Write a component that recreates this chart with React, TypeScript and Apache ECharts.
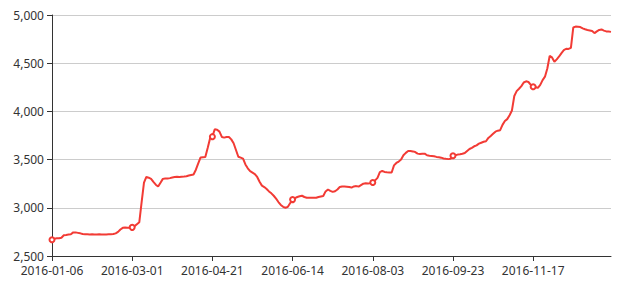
import React, { useEffect, useRef } from "react";
import * as echarts from "echarts";

const dates: string[] = [
  "2016-01-06", "2016-01-07", "2016-01-08", "2016-01-11", "2016-01-12", "2016-01-13", "2016-01-14", "2016-01-15",
  "2016-01-18", "2016-01-19", "2016-01-20", "2016-01-21", "2016-01-22", "2016-01-25", "2016-01-26", "2016-01-27",
  "2016-01-28", "2016-01-29", "2016-02-01", "2016-02-02", "2016-02-03", "2016-02-04", "2016-02-05", "2016-02-15",
  "2016-02-16", "2016-02-17", "2016-02-18", "2016-02-19", "2016-02-22", "2016-02-23", "2016-02-24", "2016-02-25",
  "2016-02-26", "2016-02-29",
  "2016-03-01", "2016-03-02", "2016-03-03", "2016-03-04", "2016-03-07", "2016-03-08", "2016-03-09", "2016-03-10",
  "2016-03-11", "2016-03-14", "2016-03-15", "2016-03-16", "2016-03-17", "2016-03-18", "2016-03-21", "2016-03-22",
  "2016-03-23", "2016-03-24", "2016-03-29", "2016-03-30", "2016-03-31", "2016-04-01", "2016-04-05", "2016-04-06",
  "2016-04-07", "2016-04-08", "2016-04-11", "2016-04-12", "2016-04-13", "2016-04-14", "2016-04-15", "2016-04-18",
  "2016-04-19", "2016-04-20",
  "2016-04-21", "2016-04-22", "2016-04-25", "2016-04-26", "2016-04-27", "2016-04-28", "2016-04-29", "2016-05-03",
  "2016-05-04", "2016-05-05", "2016-05-06", "2016-05-09", "2016-05-10", "2016-05-11", "2016-05-12", "2016-05-13",
  "2016-05-16", "2016-05-17", "2016-05-18", "2016-05-19", "2016-05-20", "2016-05-23", "2016-05-24", "2016-05-25",
  "2016-05-26", "2016-05-27", "2016-05-31", "2016-06-01", "2016-06-02", "2016-06-03", "2016-06-06", "2016-06-07",
  "2016-06-08", "2016-06-13",
  "2016-06-14", "2016-06-15", "2016-06-16", "2016-06-17", "2016-06-20", "2016-06-21", "2016-06-22", "2016-06-23",
  "2016-06-24", "2016-06-27", "2016-06-28", "2016-06-29", "2016-06-30", "2016-07-05", "2016-07-06", "2016-07-07",
  "2016-07-08", "2016-07-11", "2016-07-12", "2016-07-13", "2016-07-14", "2016-07-15", "2016-07-18", "2016-07-19",
  "2016-07-20", "2016-07-21", "2016-07-22", "2016-07-25", "2016-07-26", "2016-07-27", "2016-07-28", "2016-07-29",
  "2016-08-01", "2016-08-02",
  "2016-08-03", "2016-08-04", "2016-08-05", "2016-08-08", "2016-08-09", "2016-08-10", "2016-08-11", "2016-08-12",
  "2016-08-15", "2016-08-16", "2016-08-17", "2016-08-18", "2016-08-19", "2016-08-22", "2016-08-23", "2016-08-24",
  "2016-08-25", "2016-08-26", "2016-08-29", "2016-08-30", "2016-08-31", "2016-09-01", "2016-09-02", "2016-09-06",
  "2016-09-07", "2016-09-08", "2016-09-09", "2016-09-12", "2016-09-13", "2016-09-14", "2016-09-19", "2016-09-20",
  "2016-09-21", "2016-09-22",
  "2016-09-23", "2016-09-26", "2016-09-27", "2016-09-28", "2016-09-29", "2016-09-30", "2016-10-10", "2016-10-11",
  "2016-10-12", "2016-10-13", "2016-10-14", "2016-10-17", "2016-10-18", "2016-10-19", "2016-10-20", "2016-10-21",
  "2016-10-24", "2016-10-25", "2016-10-26", "2016-10-27", "2016-10-28", "2016-10-31", "2016-11-01", "2016-11-02",
  "2016-11-03", "2016-11-04", "2016-11-07", "2016-11-08", "2016-11-09", "2016-11-10", "2016-11-11", "2016-11-14",
  "2016-11-15", "2016-11-16",
  "2016-11-17", "2016-11-18", "2016-11-21", "2016-11-22", "2016-11-23", "2016-11-24", "2016-11-25", "2016-11-28",
  "2016-11-29", "2016-11-30", "2016-12-01", "2016-12-02", "2016-12-05", "2016-12-06", "2016-12-07", "2016-12-08",
  "2016-12-09", "2016-12-12", "2016-12-13", "2016-12-14", "2016-12-15", "2016-12-16", "2016-12-19", "2016-12-20",
  "2016-12-21", "2016-12-22", "2016-12-23", "2016-12-26", "2016-12-27", "2016-12-28", "2016-12-29", "2016-12-30",
  "2017-01-03", "2017-01-04",
];

const values: number[] = [
  // 2016-01-06 .. 2016-02-29
  2668, 2680, 2683, 2685, 2690, 2715, 2718, 2722, 2725, 2745, 2745, 2740, 2735, 2728,
  2726, 2725, 2724, 2725, 2724, 2724, 2725, 2724, 2724, 2724, 2725, 2726, 2728,
  2735, 2750, 2775, 2792, 2795, 2793, 2792,
  // 2016-03-01 .. 2016-04-20
  2797, 2810, 2830, 2850, 3060, 3260, 3320, 3312, 3300, 3268, 3240, 3220, 3260, 3300,
  3305, 3303, 3308, 3315, 3320, 3322, 3320, 3323, 3325, 3328, 3335, 3340, 3345, 3395,
  3460, 3522, 3525, 3528, 3620, 3720,
  // 2016-04-21 .. 2016-06-13
  3738, 3815, 3810, 3790, 3735, 3728, 3735, 3735, 3710, 3670, 3600, 3530, 3520, 3510,
  3450, 3410, 3380, 3365, 3350, 3320, 3270, 3230, 3215, 3195, 3170, 3150, 3125, 3095,
  3060, 3030, 3010, 3000, 3010, 3050,
  // 2016-06-14 .. 2016-08-02
  3085, 3100, 3112, 3120, 3125, 3112, 3105, 3103, 3103, 3105, 3104, 3112, 3118, 3122,
  3170, 3190, 3175, 3165, 3172, 3190, 3215, 3220, 3220, 3218, 3215, 3210, 3222, 3225,
  3220, 3235, 3250, 3255, 3252, 3256,
  // 2016-08-03 .. 2016-09-22
  3262, 3285, 3310, 3370, 3382, 3372, 3368, 3365, 3366, 3440, 3465, 3480, 3500, 3545,
  3570, 3590, 3590, 3585, 3578, 3562, 3558, 3560, 3562, 3545, 3540, 3538, 3535, 3528,
  3525, 3520, 3512, 3508, 3505, 3508,
  // 2016-09-23 .. 2016-11-16
  3540, 3545, 3552, 3555, 3560, 3568, 3590, 3610, 3622, 3638, 3648, 3665, 3675, 3685,
  3690, 3725, 3745, 3768, 3790, 3800, 3805, 3860, 3900, 3920, 3960, 4010, 4160, 4210,
  4235, 4262, 4300, 4312, 4305, 4275,
  // 2016-11-17 .. end
  4255, 4250, 4245, 4275, 4325, 4360, 4445, 4575, 4560, 4515, 4540, 4570, 4605, 4635,
  4650, 4648, 4660, 4870, 4880, 4878, 4875, 4862, 4852, 4845, 4840, 4835, 4812, 4830,
  4845, 4850, 4838, 4830, 4828, 4825,
];

const yMin = 2500;
const yMax = 5000;
const yStep = 500;

export default function App() {
  const ref = useRef<HTMLDivElement>(null);
  useEffect(() => {
    if (!ref.current) return;
    const chart = echarts.init(ref.current, null, { renderer: "svg" });
    const font = "Noto Sans";
    chart.setOption({
      animation: false,
      textStyle: { fontFamily: font },
      grid: { left: 52, right: 9, top: 15, bottom: 25, containLabel: false },
      xAxis: {
        type: "category",
        data: dates,
        boundaryGap: false,
        axisLine: { show: true, lineStyle: { color: "#333" } },
        axisTick: { show: true, interval: 33, lineStyle: { color: "#333" } },
        axisLabel: { interval: 33, color: "#333", fontSize: 12, fontFamily: font },
        splitLine: { show: false },
      },
      yAxis: {
        type: "value",
        min: yMin,
        max: yMax,
        interval: yStep,
        axisLine: { show: true, lineStyle: { color: "#333" } },
        axisTick: { show: true, lineStyle: { color: "#333" } },
        axisLabel: {
          color: "#333",
          fontSize: 12,
          fontFamily: font,
          formatter: (v: number) => v.toLocaleString("en-US"),
        },
        splitLine: { show: true, lineStyle: { color: "#ccc" } },
      },
      series: [
        {
          type: "line",
          data: values,
          symbol: "emptyCircle",
          symbolSize: 5,
          showAllSymbol: "auto",
          lineStyle: { color: "#f23b35", width: 2 },
          itemStyle: { color: "#f23b35", borderColor: "#f23b35", borderWidth: 1.5 },
        },
      ],
    });
    return () => chart.dispose();
  }, []);
  return (
    <div
      ref={ref}
      style={{ position: "absolute", left: 0, top: 0, width: 620, height: 281 }}
    />
  );
}
